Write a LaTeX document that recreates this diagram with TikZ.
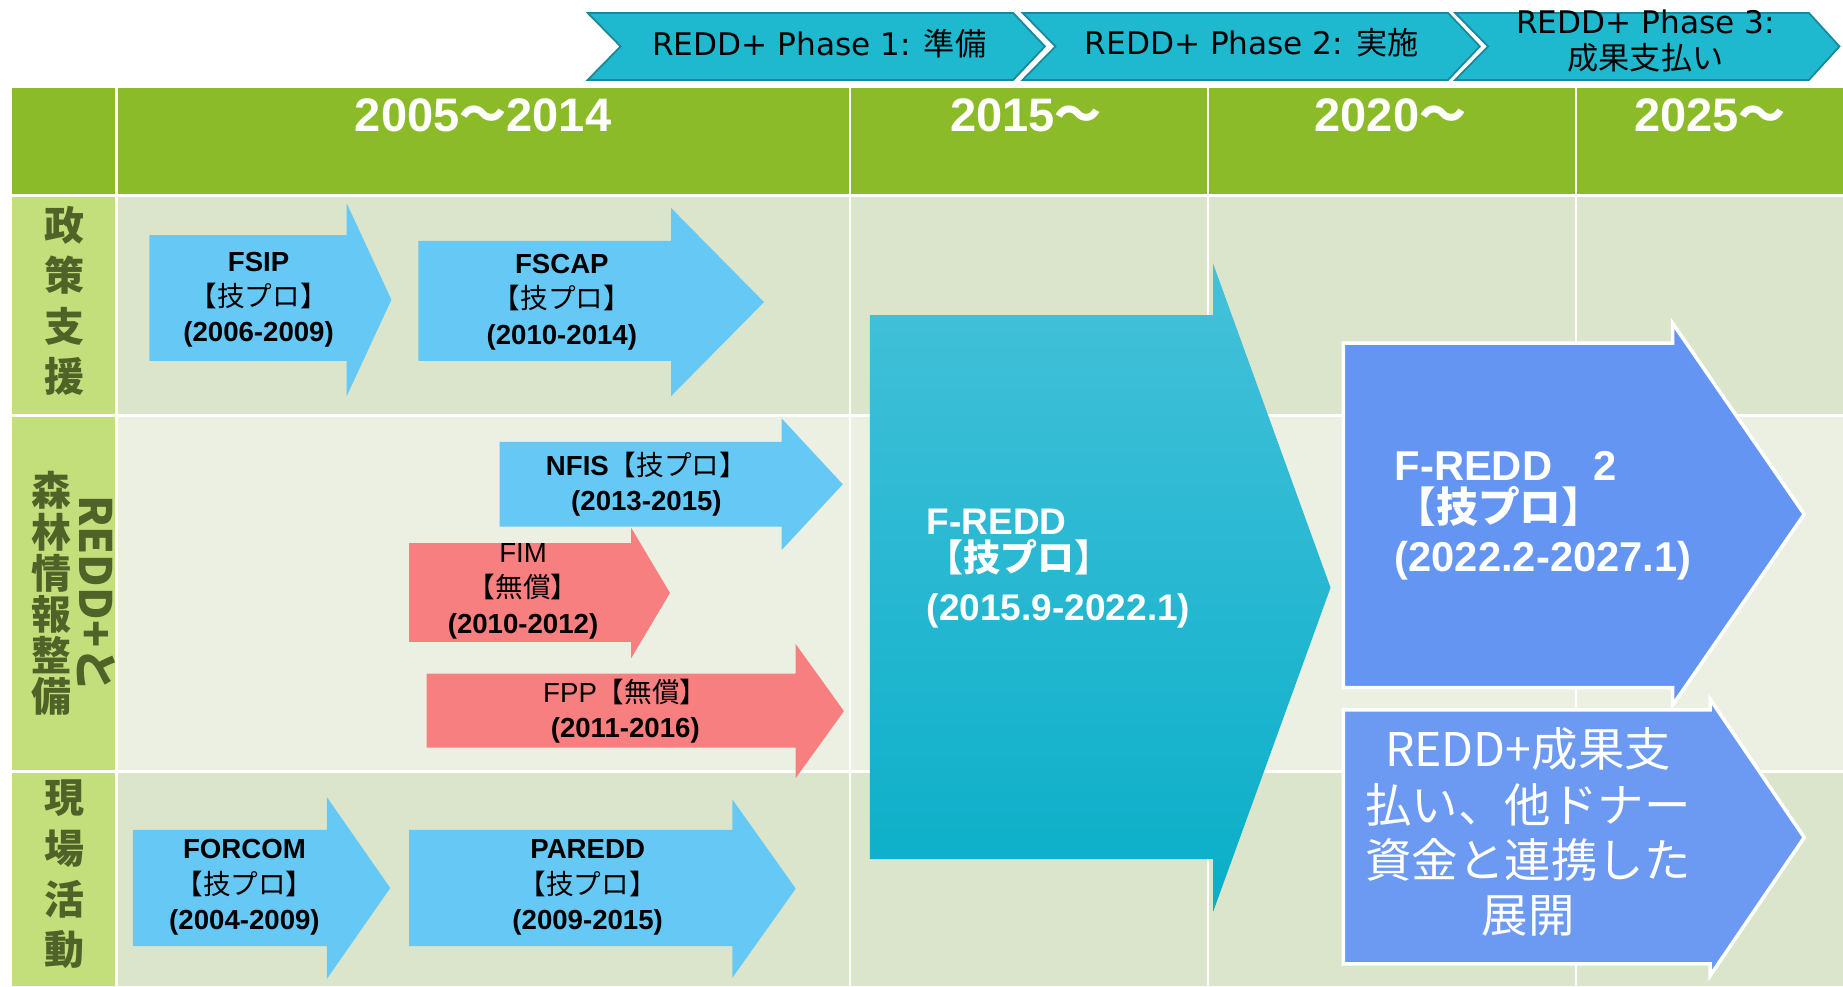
\documentclass[tikz,border=0pt]{standalone}
\usepackage{fontspec}
\setmainfont{Liberation Sans}
\newfontfamily\jp{Noto Sans CJK JP}
\newfontfamily\phasefont{DejaVu Sans}
\definecolor{hdrgreen}{HTML}{8CBB2A}
\definecolor{lblgreen}{HTML}{C3DF7B}
\definecolor{lblolive}{HTML}{4F6228}
\definecolor{rowdark}{HTML}{DBE5CB}
\definecolor{rowlight}{HTML}{EBF0E3}
\definecolor{phasefill}{HTML}{1EB8CF}
\definecolor{phaseline}{HTML}{17899B}
\definecolor{skyarrow}{HTML}{66C8F5}
\definecolor{pinkarrow}{HTML}{F87F80}
\definecolor{freddtop}{HTML}{45C1DA}
\definecolor{freddbot}{HTML}{09AEC8}
\definecolor{freddtwo}{HTML}{6495F2}
% style, x0, top, bottom, neck, head top, head bottom, tip
\newcommand{\projarrow}[8]{%
  \path[#1] (#2,#3) -- (#5,#3) -- (#5,#6) -- (#8,{(#6+#7)/2}) -- (#5,#7) -- (#5,#4) -- (#2,#4) -- cycle;}
% x0, right corner, tip x
\newcommand{\phasechev}[3]{%
  \path[phasearrow] (#1,11) -- (#2,11) -- (#3,39.5) -- (#2,68) -- (#1,68) -- ({#1+28},39.5) -- cycle;}
\tikzset{
  phasearrow/.style={fill=phasefill, draw=phaseline, line width=1.5pt, line join=miter},
  phasetext/.style={font=\phasefont\fontsize{26.5}{30}\selectfont, align=center},
  yeartext/.style={text=white, font=\fontsize{40}{42}\selectfont\bfseries},
  rowlabel/.style={text=lblolive, align=center, font=\jp\bfseries\fontsize{34}{#1}\selectfont},
  projtext/.style={align=center, font=\fontsize{23.5}{30}\selectfont},
  bigtext/.style={text=white, align=left, anchor=west, font=\bfseries\fontsize{#1}{#1}\selectfont}
}
\begin{document}
\begin{tikzpicture}[x=1pt,y=-1pt]
\useasboundingbox[fill=white] (0,0) rectangle (1568,839);
% table
\fill[hdrgreen] (10,75) rectangle (98,165);
\fill[lblgreen] (10,168) rectangle (98,352);
\fill[lblgreen] (10,355) rectangle (98,655);
\fill[lblgreen] (10,658) rectangle (98,839);
\foreach \xa/\xb in {100/722,724/1027,1029/1340,1342/1568} {
  \fill[hdrgreen] (\xa,75) rectangle (\xb,165);
  \fill[rowdark] (\xa,168) rectangle (\xb,352);
  \fill[rowlight] (\xa,355) rectangle (\xb,655);
  \fill[rowdark] (\xa,658) rectangle (\xb,839);
}
\node[yeartext] (y2005) at (411,98) {2005{\jp\bfseries ～}2014};
\node[yeartext] (y2015) at (873,98) {2015{\jp\bfseries ～}};
\node[yeartext] (y2020) at (1183,98) {2020{\jp\bfseries ～}};
\node[yeartext] (y2025) at (1455,98) {2025{\jp\bfseries ～}};
% phases
\phasechev{500}{862}{889}
\phasechev{870}{1232}{1259}
\phasechev{1238}{1539}{1565}
\node[phasetext] (phase1) at (697,37) {REDD+ Phase 1: {\jp 準備}};
\node[phasetext] (phase2) at (1065,36) {REDD+ Phase 2: {\jp 実施}};
\node[phasetext] (phase3) at (1400,35) {REDD+ Phase 3:\\{\jp 成果支払い}};
% row labels
\node[rowlabel=43] (policy) at (55,256) {政\\策\\支\\援};
\node[rowlabel=35] (forestinfo) at (44,505) {森\\林\\情\\報\\整\\備};
\node[text=lblolive, rotate=-90, font=\jp\bfseries\fontsize{38}{38}\selectfont] (reddplus) at (82,505) {REDD+と};
\node[rowlabel=43] (field) at (55,744) {現\\場\\活\\動};
% projects
\projarrow{fill=skyarrow}{127}{200}{307}{295}{173}{337}{333}
\node[projtext] (fsip) at (220,255) {\textbf{FSIP}\\{\jp 【技プロ】}\\\textbf{(2006-2009)}};
\projarrow{fill=skyarrow}{356}{205}{307}{571}{177}{337}{650}
\node[projtext] (fscap) at (478,257) {\textbf{FSCAP}\\{\jp 【技プロ】}\\\textbf{(2010-2014)}};
\projarrow{fill=pinkarrow}{348}{462}{546}{537}{449}{560}{570}
\node[projtext] (fim) at (445,503) {FIM\\{\jp 【無償】}\\\textbf{(2010-2012)}};
\projarrow{fill=skyarrow}{425}{376}{448}{665}{356}{468}{717}
\node[projtext] (nfis) at (550,412) {\textbf{NFIS}{\jp 【技プロ】}\\\textbf{(2013-2015)}};
\projarrow{fill=pinkarrow}{363}{573}{636}{677}{548}{662}{718}
\node[projtext] (fpp) at (532,605) {FPP{\jp 【無償】}\\\textbf{(2011-2016)}};
\projarrow{fill=skyarrow}{113}{706}{805}{278}{678}{833}{332}
\node[projtext] (forcom) at (208,755) {\textbf{FORCOM}\\{\jp 【技プロ】}\\\textbf{(2004-2009)}};
\projarrow{fill=skyarrow}{348}{706}{805}{623}{680}{832}{677}
\node[projtext] (paredd) at (500,755) {\textbf{PAREDD}\\{\jp 【技プロ】}\\\textbf{(2009-2015)}};
\projarrow{top color=freddtop, bottom color=freddbot}{740}{268}{731}{1032}{224}{776}{1132}
\node[bigtext=31.5] (fredd) at (785,484) {F-REDD\\{\jp\bfseries 【技プロ】}\\[10pt](2015.9-2022.1)};
\projarrow{fill=freddtwo, draw=white, line width=3pt}{1143}{292}{585}{1423}{275}{600}{1535}
\node[bigtext=35.5] (fredd2) at (1183,439) {F-REDD{\jp\bfseries 　}2\\{\jp\bfseries 【技プロ】}\\[6pt](2022.2-2027.1)};
\projarrow{fill=freddtwo!95!white, draw=white, line width=3pt}{1143}{604}{820}{1455}{595}{830}{1535}
\node[text=white, align=center, font=\jp\fontsize{39.5}{47}\selectfont] (payment) at (1300,708) {REDD+成果支\\払い、他ドナー\\資金と連携した\\展開};
\end{tikzpicture}
\end{document}
